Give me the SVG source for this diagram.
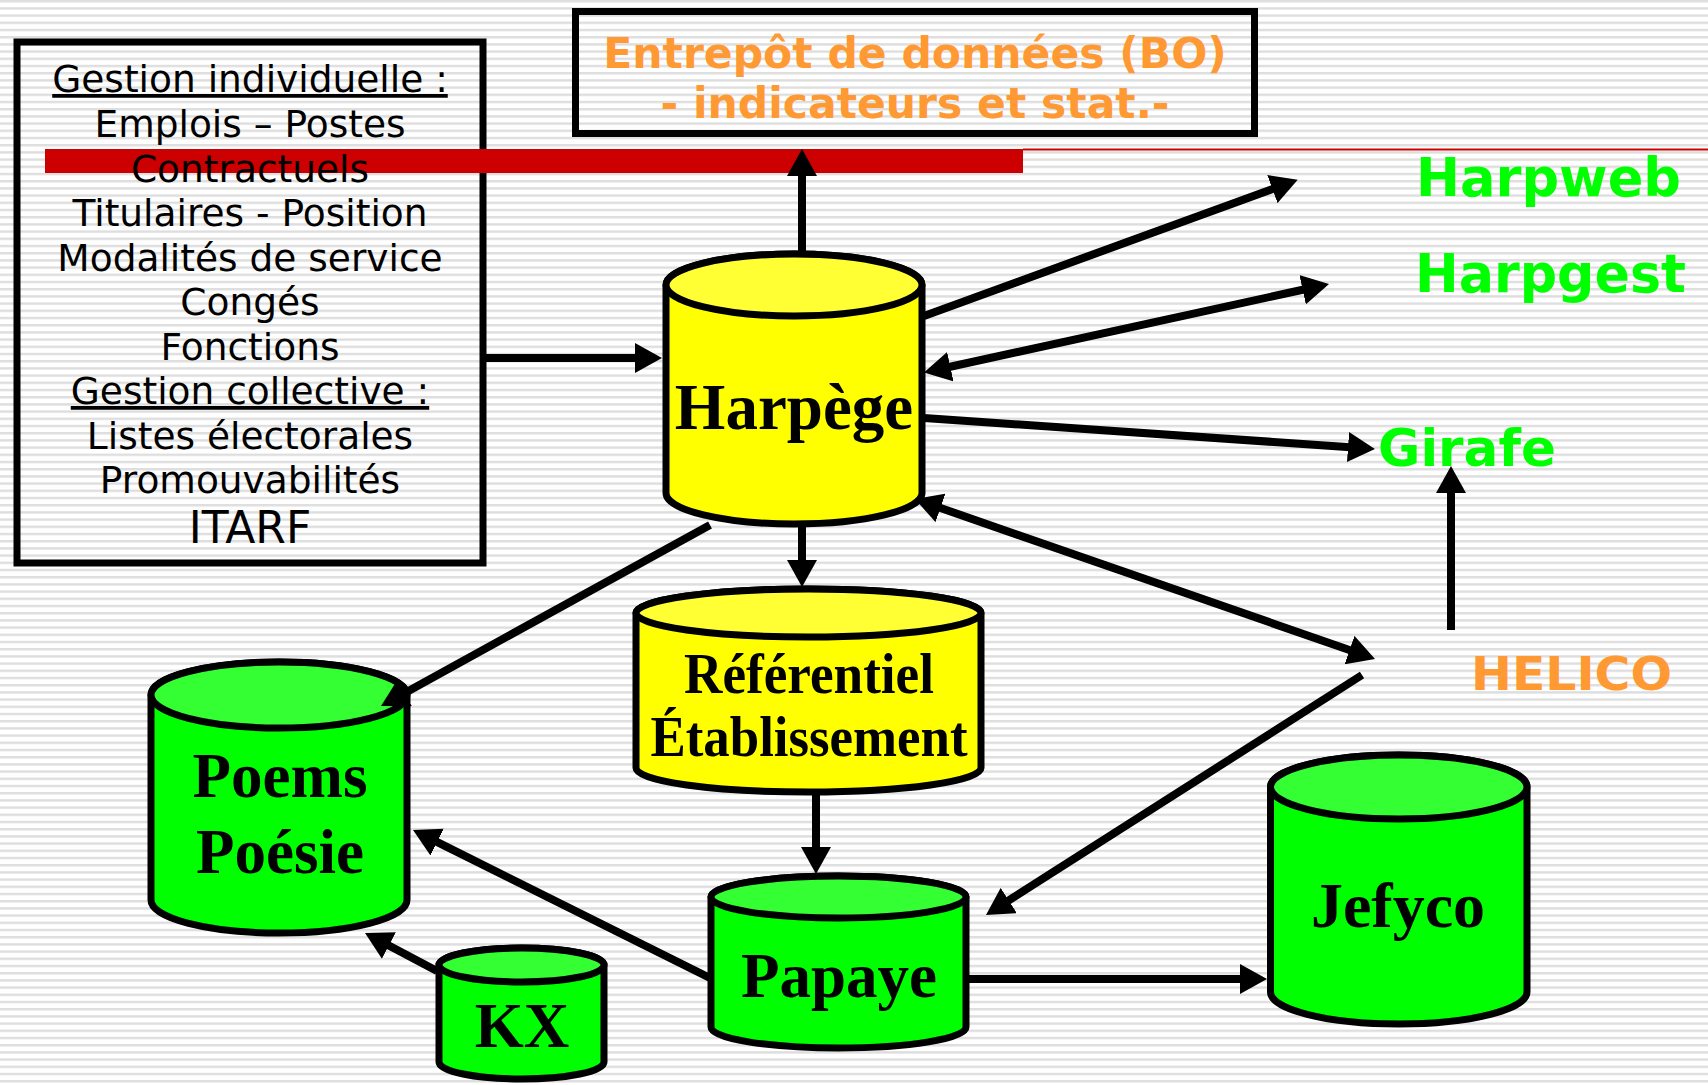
<svg xmlns="http://www.w3.org/2000/svg" width="1708" height="1085" viewBox="0 0 1708 1085">
<style>
.cyl{stroke:#000;stroke-width:7;stroke-linejoin:round}
.yb{fill:#FFFF00}.yt{fill:#FFFF33}
.gb{fill:#00FF00}.gt{fill:#33FF33}
.lbl{font-family:"Liberation Serif","Times New Roman",serif;font-weight:bold;fill:#000;text-anchor:middle}
.lst{font-family:"DejaVu Sans",Verdana,sans-serif;font-size:37.5px;fill:#000;text-anchor:middle}
.big{font-family:"DejaVu Sans",Verdana,sans-serif;font-weight:bold}
.arr{stroke:#000;stroke-width:8;fill:none}
</style>
<defs>
<pattern id="bg" width="16" height="7.2" patternUnits="userSpaceOnUse">
<rect width="16" height="7.2" fill="#ffffff"/>
<rect y="0" width="16" height="2.4" fill="#dedede"/>
</pattern>
<marker id="ah" viewBox="0 0 27 30" markerWidth="27" markerHeight="30" refX="6" refY="15" orient="auto-start-reverse" markerUnits="userSpaceOnUse">
<path d="M0,0 L27,15 L0,30 Z" fill="#000"/>
</marker>
</defs>
<rect width="1708" height="1085" fill="url(#bg)"/>

<g id="box-gestion">
<rect x="17" y="42" width="466" height="521" fill="none" stroke="#000" stroke-width="7"/>
</g>
<g id="red-bar">
<rect x="45" y="149" width="978" height="24" fill="#CC0000"/>
<rect x="1023" y="148.5" width="685" height="2" fill="#CC0000"/>
</g>
<g id="box-gestion-text">
<text class="lst" x="250" y="92" text-decoration="underline">Gestion individuelle :</text>
<text class="lst" x="250" y="137">Emplois – Postes</text>
<text class="lst" x="250" y="181.5">Contractuels</text>
<text class="lst" x="250" y="226">Titulaires - Position</text>
<text class="lst" x="250" y="270.5">Modalités de service</text>
<text class="lst" x="250" y="315">Congés</text>
<text class="lst" x="250" y="359.5">Fonctions</text>
<text class="lst" x="250" y="404" text-decoration="underline">Gestion collective :</text>
<text class="lst" x="250" y="448.5">Listes électorales</text>
<text class="lst" x="250" y="493">Promouvabilités</text>
<text class="lst" x="250" y="543" style="font-size:44px">ITARF</text>
</g>

<g id="entrepot">
<rect x="575.5" y="11.5" width="679" height="122" fill="none" stroke="#000" stroke-width="7"/>
<text class="big" x="915" y="67.5" font-size="42.5" fill="#FF9933" text-anchor="middle">Entrepôt de données (BO)</text>
<text class="big" x="915" y="117.5" font-size="42.5" fill="#FF9933" text-anchor="middle">- indicateurs et stat.-</text>
</g>

<g id="harpweb"><text class="big" x="1416" y="196" font-size="53" fill="#00FF00" textLength="265" lengthAdjust="spacingAndGlyphs">Harpweb</text></g>
<g id="harpgest"><text class="big" x="1415" y="292" font-size="53" fill="#00FF00" textLength="271" lengthAdjust="spacingAndGlyphs">Harpgest</text></g>
<g id="girafe"><text class="big" x="1378" y="466" font-size="52" fill="#00FF00" textLength="178" lengthAdjust="spacingAndGlyphs">Girafe</text></g>
<g id="helico"><text class="big" x="1471" y="690" font-size="47" fill="#FF9933" textLength="201" lengthAdjust="spacingAndGlyphs">HELICO</text></g>

<g id="harpege">
<path class="cyl yb" d="M666,285 V493 A128,31 0 0 0 922,493 V285 A128,31 0 0 0 666,285 Z"/>
<ellipse class="cyl yt" cx="794" cy="285" rx="128" ry="31"/>
<text class="lbl" x="794" y="429" font-size="65">Harpège</text>
</g>
<g id="referentiel">
<path class="cyl yb" d="M636,613 V768 A172.5,24 0 0 0 981,768 V613 A172.5,24 0 0 0 636,613 Z"/>
<ellipse class="cyl yt" cx="808.5" cy="613" rx="172.5" ry="24"/>
<text class="lbl" x="809" y="693" font-size="58" textLength="250" lengthAdjust="spacingAndGlyphs">Référentiel</text>
<text class="lbl" x="809" y="756" font-size="58" textLength="317" lengthAdjust="spacingAndGlyphs">Établissement</text>
</g>
<g id="poems">
<path class="cyl gb" d="M151,695 V900 A128,33 0 0 0 407,900 V695 A128,33 0 0 0 151,695 Z"/>
<ellipse class="cyl gt" cx="279" cy="695" rx="128" ry="33"/>
<text class="lbl" x="280" y="797" font-size="63">Poems</text>
<text class="lbl" x="280" y="873" font-size="63">Poésie</text>
</g>
<g id="papaye">
<path class="cyl gb" d="M711,897 V1027 A127.5,21 0 0 0 966,1027 V897 A127.5,21 0 0 0 711,897 Z"/>
<ellipse class="cyl gt" cx="838.5" cy="897" rx="127.5" ry="21"/>
<text class="lbl" x="839" y="997" font-size="63">Papaye</text>
</g>
<g id="kx">
<path class="cyl gb" d="M439,965 V1062 A82.5,17 0 0 0 604,1062 V965 A82.5,17 0 0 0 439,965 Z"/>
<ellipse class="cyl gt" cx="521.5" cy="965" rx="82.5" ry="17"/>
<text class="lbl" x="522" y="1047" font-size="63">KX</text>
</g>
<g id="jefyco">
<path class="cyl gb" d="M1270.5,787 V992 A128.25,32 0 0 0 1527,992 V787 A128.25,32 0 0 0 1270.5,787 Z"/>
<ellipse class="cyl gt" cx="1398.75" cy="787" rx="128.25" ry="32"/>
<text class="lbl" x="1398" y="927" font-size="64">Jefyco</text>
</g>

<g id="connectors">
<line class="arr" x1="486" y1="358" x2="641" y2="358" marker-end="url(#ah)"/>
<line class="arr" x1="802" y1="252" x2="802" y2="170" marker-end="url(#ah)"/>
<line class="arr" x1="924" y1="316" x2="1278" y2="187" marker-end="url(#ah)"/>
<line class="arr" x1="944.5" y1="368" x2="1308.5" y2="288.5" marker-start="url(#ah)" marker-end="url(#ah)"/>
<line class="arr" x1="924" y1="418" x2="1354" y2="447.5" marker-end="url(#ah)"/>
<line class="arr" x1="934.8" y1="506" x2="1355.2" y2="652" marker-start="url(#ah)" marker-end="url(#ah)"/>
<line class="arr" x1="1362" y1="675" x2="1003.7" y2="903.7" marker-end="url(#ah)"/>
<line class="arr" x1="1451" y1="630" x2="1451" y2="487" marker-end="url(#ah)"/>
<line class="arr" x1="802" y1="524" x2="802" y2="566" marker-end="url(#ah)"/>
<line class="arr" x1="710" y1="525" x2="399.4" y2="695.9" marker-end="url(#ah)"/>
<line class="arr" x1="816" y1="792" x2="816" y2="853" marker-end="url(#ah)"/>
<line class="arr" x1="710" y1="978" x2="431.8" y2="839.4" marker-end="url(#ah)"/>
<line class="arr" x1="437" y1="971" x2="383.6" y2="942.8" marker-end="url(#ah)"/>
<line class="arr" x1="966" y1="979" x2="1246" y2="979" marker-end="url(#ah)"/>
</g>
</svg>
